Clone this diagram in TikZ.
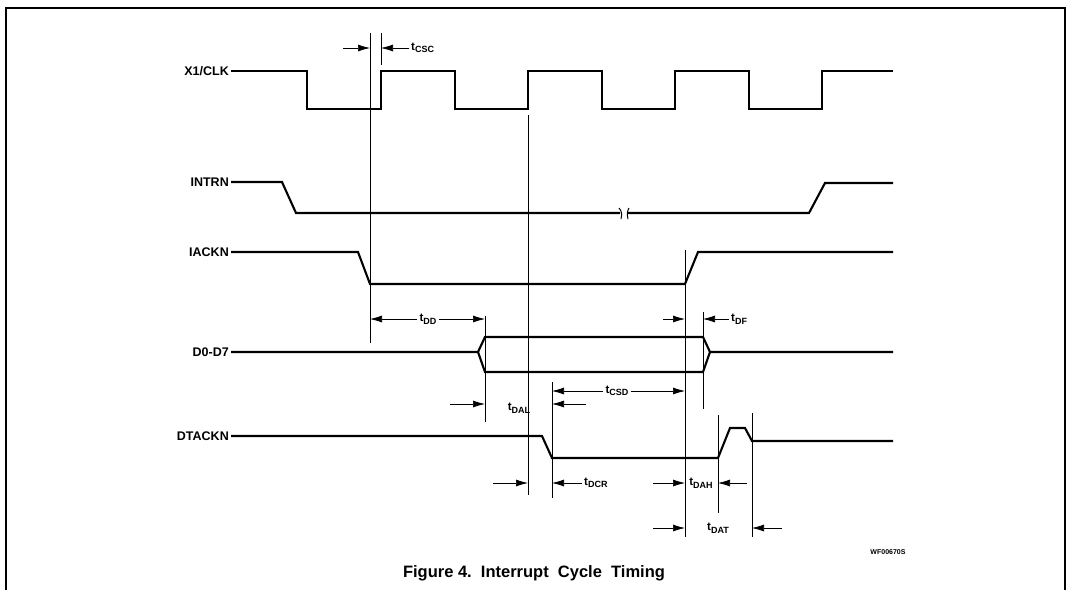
\documentclass[tikz,border=0pt]{standalone}
\usepackage{fontspec}
\setmainfont{Liberation Sans}
\usetikzlibrary{arrows.meta}

\tikzset{
  sig/.style={line width=2.1pt},
  vline/.style={line width=1pt},
  dim/.style={line width=0.7pt, -{Latex[length=12pt,width=7pt]}},
  signame/.style={font=\fontsize{12.5}{14}\selectfont\bfseries, anchor=east, inner sep=2pt},
  tlabel/.style={font=\fontsize{11.5}{13}\selectfont\bfseries, inner sep=2pt}
}
\newcommand{\tsym}[1]{t\raisebox{-2.5pt}{\fontsize{9}{9}\selectfont #1}}

\begin{document}
\begin{tikzpicture}[x=1pt, y=-1pt]
    \useasboundingbox (0,0) rectangle (1069,590);

    % Frame
    \draw[line width=1.2pt] (6,590) -- (6,8) -- (1065,8) -- (1065,590);

    % Signal names
    \node[signame] (clk) at (231,71) {X1/CLK};
    \node[signame] (intrn) at (231,182) {INTRN};
    \node[signame] (iackn) at (231,252) {IACKN};
    \node[signame] (data) at (231,352) {D0-D7};
    \node[signame] (dtackn) at (231,436) {DTACKN};

    % Clock
    \draw[sig] (clk.east) -- (307,71) -- (307,109) -- (381,109) -- (381,71)
        -- (455,71) -- (455,109) -- (528,109) -- (528,71)
        -- (602,71) -- (602,109) -- (675,109) -- (675,71)
        -- (749,71) -- (749,109) -- (822,109) -- (822,71) -- (893,71);

    % INTRN (with break)
    \draw[sig] (intrn.east) -- (282,182) -- (296,213) -- (620,213);
    \draw[sig] (628,213) -- (809,213) -- (825,183) -- (893,183);
    \draw[vline] (619,208) .. controls (622,211) and (622,215) .. (621,219);
    \draw[vline] (629,208) .. controls (627,211) and (627,215) .. (628,219);

    % IACKN
    \draw[sig] (iackn.east) -- (358,252) -- (370,284) -- (685,284) -- (698,252) -- (893,252);

    % D0-D7 bus
    \draw[sig] (data.east) -- (478,352) -- (485,337) -- (703,337) -- (710,352) -- (893,352);
    \draw[sig] (478,352) -- (485,372) -- (703,372) -- (710,352);

    % DTACKN
    \draw[sig] (dtackn.east) -- (542,436) -- (552,458) -- (718,458) -- (730,428)
        -- (745,428) -- (752,441) -- (893,441);

    % Timing reference lines
    \coordinate (tA) at (370,33);
    \coordinate (tB) at (381,33);
    \coordinate (tC) at (485,316);
    \coordinate (tD) at (528,115);
    \coordinate (tE) at (552,382);
    \coordinate (tF) at (685,250);
    \coordinate (tG) at (703,312);
    \coordinate (tH) at (718,415);
    \coordinate (tI) at (752,413);
    \draw[vline] (tA) -- (370,343);
    \draw[vline] (tB) -- (381,65);
    \draw[vline] (tC) -- (485,422);
    \draw[vline] (tD) -- (528,495);
    \draw[vline] (tE) -- (552,498);
    \draw[vline] (tF) -- (685,537);
    \draw[vline] (tG) -- (703,409);
    \draw[vline] (tH) -- (718,513);
    \draw[vline] (tI) -- (752,537);

    % tCSC
    \node[tlabel, anchor=west] (csc) at (409,48) {\tsym{CSC}};
    \draw[dim] (343,48) -- (tA |- csc.west);
    \draw[dim] (csc.west) -- (tB |- csc.west);

    % tDD
    \node[tlabel] (dd) at (428,319) {\tsym{DD}};
    \draw[dim] (dd.west) -- (tA |- dd.west);
    \draw[dim] (dd.east) -- (tC |- dd.east);

    % tDF
    \node[tlabel, anchor=west] (df) at (729,319) {\tsym{DF}};
    \draw[dim] (663,319) -- (tF |- df.west);
    \draw[dim] (df.west) -- (tG |- df.west);

    % tCSD
    \node[tlabel] (csd) at (617,391) {\tsym{CSD}};
    \draw[dim] (csd.west) -- (tE |- csd.west);
    \draw[dim] (csd.east) -- (tF |- csd.east);

    % tDAL
    \node[tlabel] (dal) at (519,408) {\tsym{DAL}};
    \draw[dim] (450,404) -- (485,404);
    \draw[dim] (586,404) -- (552,404);

    % tDCR
    \node[tlabel, anchor=west] (dcr) at (582,483) {\tsym{DCR}};
    \draw[dim] (493,483) -- (528,483);
    \draw[dim] (dcr.west) -- (tE |- dcr.west);

    % tDAH
    \node[tlabel] (dah) at (701,483) {\tsym{DAH}};
    \draw[dim] (653,483) -- (tF |- dah.west);
    \draw[dim] (747,483) -- (tH |- dah.east);

    % tDAT
    \node[tlabel] (dat) at (718,528) {\tsym{DAT}};
    \draw[dim] (653,528) -- (tF |- dat.west);
    \draw[dim] (782,528) -- (tI |- dat.east);

    % Caption and drawing number
    \node[font=\fontsize{7}{8}\selectfont\bfseries] (wf) at (888,552) {WF00670S};
    \node[font=\fontsize{16.5}{18}\selectfont\bfseries] (caption) at (534,573) {Figure 4.\ \ Interrupt\ \ Cycle\ \ Timing};

\end{tikzpicture}
\end{document}
